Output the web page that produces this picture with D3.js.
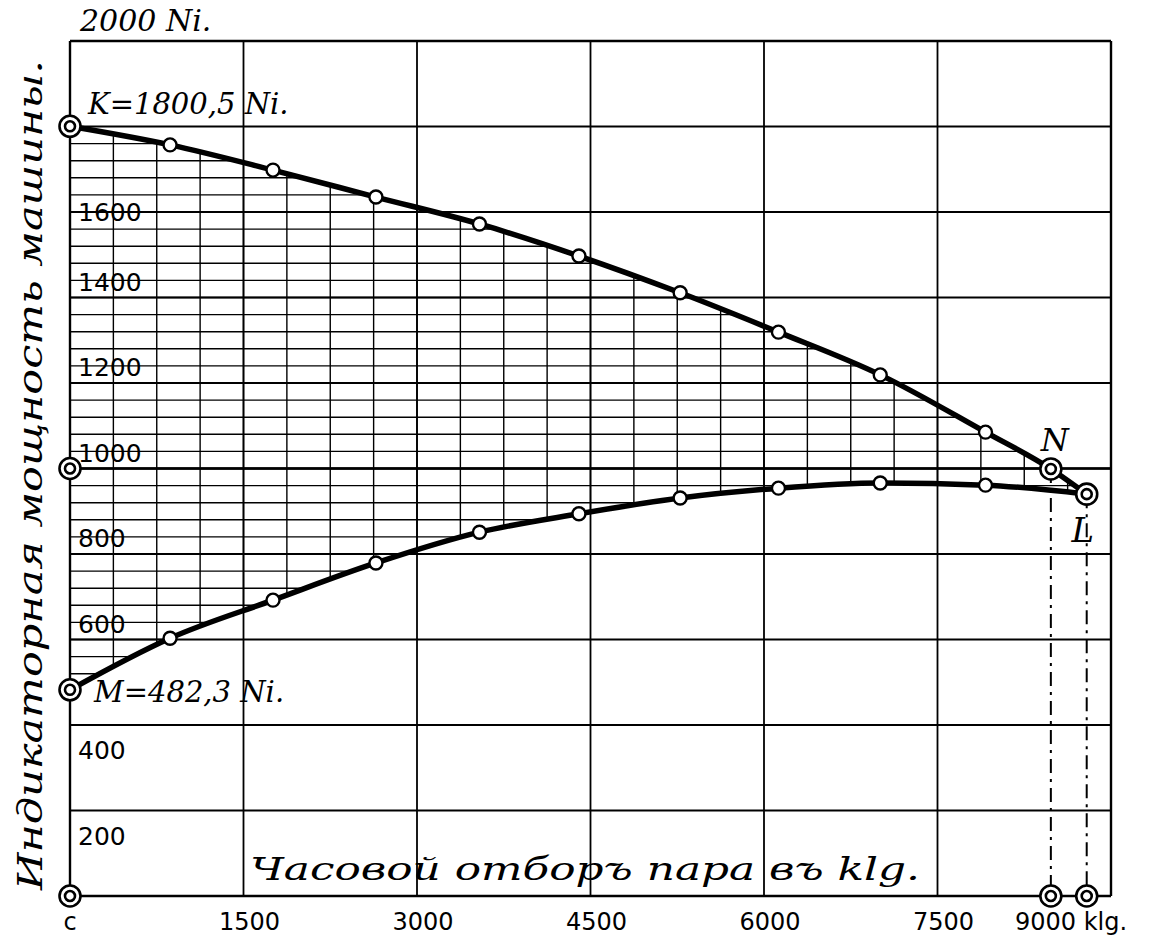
<!DOCTYPE html>
<html>
<head>
<meta charset="utf-8">
<script src="https://cdn.jsdelivr.net/npm/d3@7"></script>
<style>
  html, body { margin: 0; padding: 0; background: #fff; }
  svg { display: block; }
</style>
</head>
<body>
<svg id="chart" width="1157" height="949"></svg>
<script>
// ---- data ----
const xTicks = [0, 1500, 3000, 4500, 6000, 7500, 9000];
const xTickLabels = ["c", "1500", "3000", "4500", "6000", "7500", "9000 klg."];
const yTicks = [200, 400, 600, 800, 1000, 1200, 1400, 1600];
const yTickLabels = ["200", "400", "600", "800", "1000", "1200", "1400", "1600"];
const yTopLabel = "2000 Ni.";

// hourly steam draw (kg) of the measured points
const steamKg = [865, 1755, 2645, 3540, 4400, 5275, 6125, 7005, 7915];
// indicated power, upper curve (K → N)
const upperNi = [1757, 1698, 1635, 1572, 1497, 1411, 1319, 1219, 1085];
// indicated power, lower curve (M → L)
const lowerNi = [603, 692, 779, 851, 894, 931, 954, 966, 961];

const pointK = [0, 1800.5];
const pointM = [0, 482.3];
const pointN = [8480, 999];
const pointL = [8790, 940];
const axisMark = [0, 1000];
const origin = [0, 0];

const labelK = "K=1800,5 Ni.";
const labelM = "M=482,3 Ni.";
const labelN = "N";
const labelL = "L";
const xTitle = "Часовой отборъ пара въ klg.";
const yTitle = "Индикаторная мощность машины.";

// ---- drawing ----
const svg = d3.select("#chart");
const x = d3.scaleLinear().domain([0, 9000]).range([70, 1111]);
const y = d3.scaleLinear().domain([0, 2000]).range([896, 41]);
const ink = "#000";
const hand = "'DejaVu Serif', serif";
const digits = "'DejaVu Sans', sans-serif";

const upperPts = [pointK, ...steamKg.map((k, i) => [k, upperNi[i]]), pointN, pointL];
const lowerPts = [pointM, ...steamKg.map((k, i) => [k, lowerNi[i]]), pointL];

const line = d3.line().x(d => x(d[0])).y(d => y(d[1])).curve(d3.curveMonotoneX);

// clip region between the curves for the fine grid
const lowerRev = lowerPts.slice().reverse();
const lineRev = d3.line().x(d => x(d[0])).y(d => y(d[1])).curve(d3.curveLinear);
const clipD = line(upperPts) + lineRev(lowerRev).replace(/^M/, "L") + "Z";
svg.append("defs").append("clipPath").attr("id", "between")
  .append("path").attr("d", clipD);

// fine grid
const fine = svg.append("g").attr("clip-path", "url(#between)")
  .attr("stroke", ink).attr("stroke-width", 1.4);
fine.selectAll("line.fy").data(d3.range(40, 2000, 40)).join("line")
  .attr("x1", x(0)).attr("x2", x(9000))
  .attr("y1", d => y(d)).attr("y2", d => y(d));
fine.selectAll("line.fx").data(d3.range(375, 9000, 375)).join("line")
  .attr("x1", d => x(d)).attr("x2", d => x(d))
  .attr("y1", y(0)).attr("y2", y(2000));

// major grid
const major = svg.append("g").attr("stroke", ink).attr("stroke-width", 1.8);
major.selectAll("line.gy").data(d3.range(0, 2001, 200)).join("line")
  .attr("x1", x(0)).attr("x2", x(9000))
  .attr("y1", d => y(d)).attr("y2", d => y(d))
  .attr("stroke-width", d => (d === 0 || d === 2000) ? 2.4 : 1.8);
major.selectAll("line.gx").data(xTicks).join("line")
  .attr("x1", d => x(d)).attr("x2", d => x(d))
  .attr("y1", y(0)).attr("y2", y(2000))
  .attr("stroke-width", d => (d === 0 || d === 9000) ? 2.4 : 1.8);
// emphasised 1000 line
svg.append("line").attr("x1", x(0)).attr("x2", x(9000))
  .attr("y1", y(1000)).attr("y2", y(1000))
  .attr("stroke", ink).attr("stroke-width", 2.4);

// dash-dot projections of N and L
svg.selectAll("line.proj").data([pointN, pointL]).join("line")
  .attr("x1", d => x(d[0])).attr("x2", d => x(d[0]))
  .attr("y1", d => y(d[1])).attr("y2", y(0))
  .attr("stroke", ink).attr("stroke-width", 2)
  .attr("stroke-dasharray", "14,6,3,6");

// curves
svg.append("path").attr("d", line(upperPts)).attr("fill", "none")
  .attr("stroke", ink).attr("stroke-width", 5.5).attr("stroke-linejoin", "round");
svg.append("path").attr("d", line(lowerPts)).attr("fill", "none")
  .attr("stroke", ink).attr("stroke-width", 5.5).attr("stroke-linejoin", "round");

// small open circles
const smallPts = [...steamKg.map((k, i) => [k, upperNi[i]]), ...steamKg.map((k, i) => [k, lowerNi[i]])];
svg.selectAll("circle.pt").data(smallPts).join("circle")
  .attr("cx", d => x(d[0])).attr("cy", d => y(d[1])).attr("r", 6.5)
  .attr("fill", "#fff").attr("stroke", ink).attr("stroke-width", 2.4);

// double circles
const dbl = [pointK, axisMark, pointM, origin, pointN, pointL, [pointN[0], 0], [pointL[0], 0]];
const dg = svg.selectAll("g.dbl").data(dbl).join("g")
  .attr("transform", d => `translate(${x(d[0])},${y(d[1])})`);
dg.append("circle").attr("r", 10.5).attr("fill", "#fff").attr("stroke", ink).attr("stroke-width", 2.6);
dg.append("circle").attr("r", 5).attr("fill", "#fff").attr("stroke", ink).attr("stroke-width", 2.6);

// tick labels on x
svg.selectAll("text.xt").data(xTicks).join("text")
  .attr("x", (d, i) => x(d) + (i === xTicks.length - 1 ? -40 : (i === 0 ? 0 : 6)))
  .attr("y", y(0) + 34)
  .attr("text-anchor", "middle")
  .attr("font-family", digits)
  .attr("font-size", 24).attr("fill", ink)
  .text((d, i) => xTickLabels[i]);

// tick labels on y (written inside the frame)
svg.selectAll("text.yt").data(yTicks).join("text")
  .attr("x", x(0) + 8)
  .attr("y", d => y(d) + (d <= 400 ? 34 : d >= 1600 ? 9 : -7))
  .attr("font-family", digits)
  .attr("font-size", 25).attr("fill", ink)
  .text((d, i) => yTickLabels[i]);

svg.append("text").attr("x", x(0) + 10).attr("y", y(2000) - 10)
  .attr("font-family", hand).attr("font-style", "italic")
  .attr("font-size", 30).attr("fill", ink).text(yTopLabel);

// annotations
svg.append("text").attr("x", x(pointK[0]) + 18).attr("y", y(pointK[1]) - 12)
  .attr("font-family", hand).attr("font-style", "italic")
  .attr("font-size", 29).attr("fill", ink).text(labelK);
svg.append("text").attr("x", x(pointM[0]) + 24).attr("y", y(pointM[1]) + 12)
  .attr("font-family", hand).attr("font-style", "italic")
  .attr("font-size", 29).attr("fill", ink).text(labelM);
svg.append("text").attr("x", x(pointN[0]) - 10).attr("y", y(pointN[1]) - 18)
  .attr("font-family", hand).attr("font-style", "italic")
  .attr("font-size", 32).attr("fill", ink).text(labelN);
svg.append("text").attr("x", x(pointL[0]) - 4).attr("y", y(pointL[1]) + 48)
  .attr("font-family", hand).attr("font-style", "italic")
  .attr("font-size", 34).attr("fill", ink).attr("text-anchor", "middle").text(labelL);

// axis titles
svg.append("text").attr("x", 250).attr("y", 880)
  .attr("font-family", hand).attr("font-style", "italic")
  .attr("font-size", 32).attr("fill", ink)
  .attr("textLength", 670).attr("lengthAdjust", "spacingAndGlyphs")
  .text(xTitle);
svg.append("text")
  .attr("transform", "translate(42,890) rotate(-90)")
  .attr("font-family", hand).attr("font-style", "italic")
  .attr("font-size", 34).attr("fill", ink)
  .attr("textLength", 830).attr("lengthAdjust", "spacingAndGlyphs")
  .text(yTitle);
</script>
</body>
</html>
